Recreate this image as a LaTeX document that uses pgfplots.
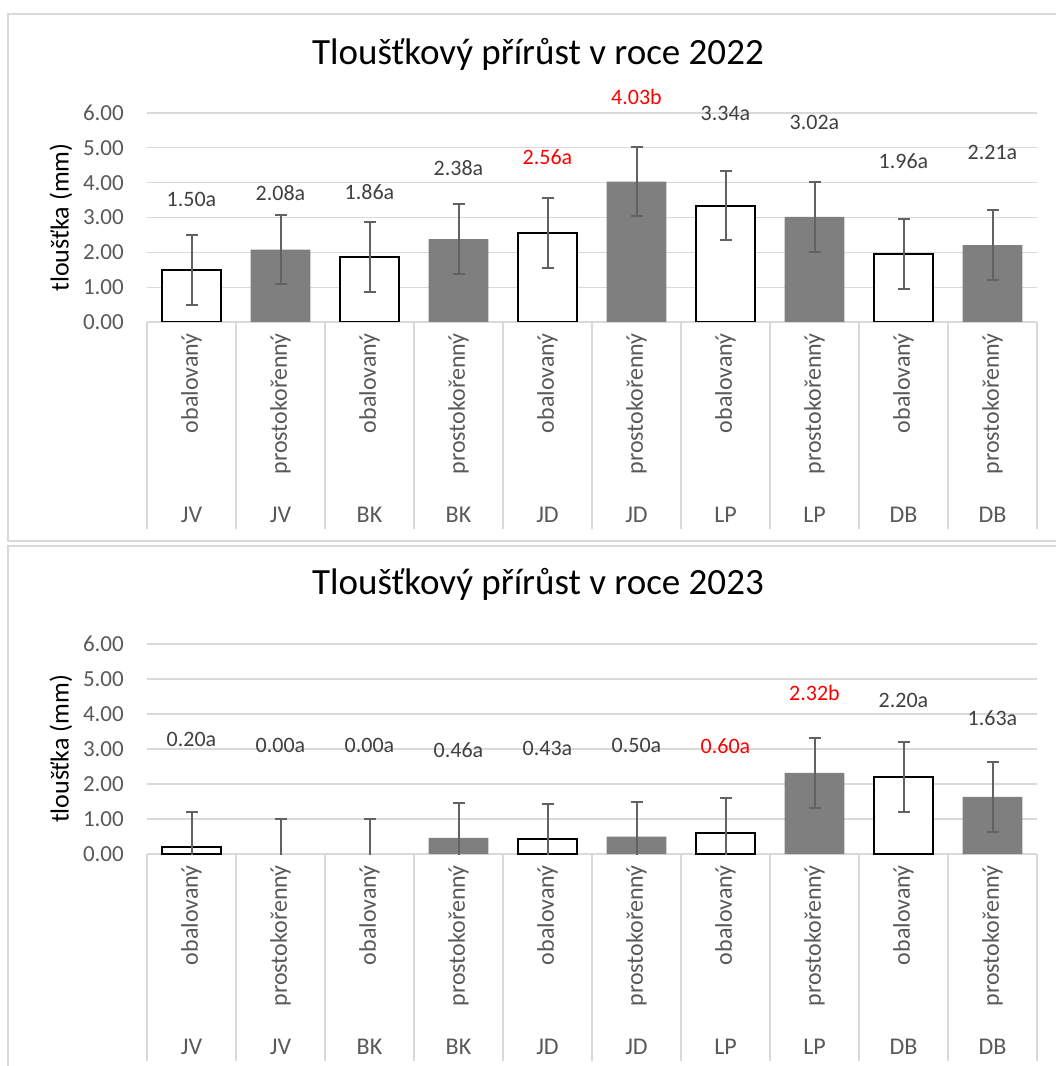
\documentclass[border=0pt]{standalone}
\usepackage{fontspec}
\setmainfont{Carlito}
\usepackage{pgfplots}
\usepackage{pgfplotstable}
\pgfplotsset{compat=1.18}
\definecolor{gridc}{HTML}{D9D9D9}
\definecolor{tickc}{HTML}{595959}
\definecolor{lblc}{HTML}{404040}
\definecolor{barg}{HTML}{7F7F7F}
\definecolor{errc}{HTML}{626262}

\pgfplotstableread{
x y e
0 1.50 1.0
2 1.86 1.0
4 2.56 1.0
6 3.34 1.0
8 1.96 1.0
}\obalA
\pgfplotstableread{
x y e
1 2.08 1.0
3 2.38 1.0
5 4.03 1.0
7 3.02 1.0
9 2.21 1.0
}\prosA
\pgfplotstableread{
x y e
0 0.20 1.0
2 0.00 1.0
4 0.43 1.0
6 0.60 1.0
8 2.20 1.0
}\obalB
\pgfplotstableread{
x y e
1 0.00 1.0
3 0.46 1.0
5 0.50 1.0
7 2.32 1.0
9 1.63 1.0
}\prosB

\tikzset{
  lbl/.style={font=\fontsize{22}{22}\selectfont, text=lblc, anchor=center, inner sep=0pt},
  rlbl/.style={font=\fontsize{22}{22}\selectfont, text=red, anchor=center, inner sep=0pt},
  grp/.style={font=\fontsize{24}{24}\selectfont, text=tickc, anchor=center, inner sep=0pt, yshift=-193pt},
}

\pgfplotsset{
  panel/.style={
    scale only axis, width=890pt,
    xmin=-0.5, xmax=9.5, ymin=0, ymax=6,
    clip mode=individual,
    axis line style={draw=none},
    ymajorgrids, grid style={draw=gridc, line width=1.3pt},
    ytick={0,1,2,3,4,5,6}, ytick pos=left, major tick length=0pt,
    /pgf/number format/assume math mode=true,
    yticklabel={\pgfmathprintnumber[fixed,fixed zerofill,precision=2]{\tick}},
    yticklabel style={font=\fontsize{23}{23}\selectfont, text=tickc, inner sep=0pt, xshift=-23pt},
    xtick={0,1,2,3,4,5,6,7,8,9}, xtick pos=bottom,
    xticklabels={obalovaný,prostokořenný,obalovaný,prostokořenný,obalovaný,prostokořenný,obalovaný,prostokořenný,obalovaný,prostokořenný},
    xticklabel style={font=\fontsize{24}{24}\selectfont, text=tickc, rotate=90, anchor=east, inner sep=0pt, inner xsep=11pt},
    extra x ticks={-0.5,0.5,1.5,2.5,3.5,4.5,5.5,6.5,7.5,8.5,9.5},
    extra x tick labels={},
    extra x tick style={major tick length=207pt, tick align=outside, tick style={draw=gridc, line width=1.3pt}},
    ylabel={tloušťka (mm)},
    ylabel style={at={(axis description cs:-0.0966,0.5)}, anchor=center, font=\fontsize{26}{26}\selectfont, text=black},
    title style={font=\fontsize{37}{37}\selectfont, text=black, anchor=base},
  },
  whitebar/.style={ybar, bar width=0.67, bar shift=0pt, fill=white, draw=black, line width=1.8pt,
    unbounded coords=discard, y filter/.expression={y==0 ? nan : y}},
  graybar/.style={ybar, bar width=0.67, bar shift=0pt, fill=barg, draw=none,
    unbounded coords=discard, y filter/.expression={y==0 ? nan : y}},
  errs/.style={color=errc, line width=2pt, mark=none, forget plot, draw=none,
    error bars/.cd, y dir=both, y explicit,
    error bar style={draw=errc, line width=2pt},
    error mark options={rotate=90, mark size=6pt, draw=errc, line width=2pt}},
}

\begin{document}
\begin{tikzpicture}[x=1pt,y=1pt]
\useasboundingbox (0,0) rectangle (1056,1066);
\draw[gridc, line width=1.3pt] (8,1052) rectangle (1080,525);
\draw[gridc, line width=1.3pt] (8,520) rectangle (1080,-30);

% ---------- 2022 ----------
\begin{axis}[panel, height=209pt, at={(147pt,744pt)}, anchor=south west,
  title={Tloušťkový přírůst v roce 2022},
  title style={at={(axis description cs:0.4393,1.2057)}}]
\addplot[whitebar] table[x=x,y=y] {\obalA};
\addplot[graybar] table[x=x,y=y] {\prosA};
\addplot[errs] table[x=x,y=y,y error=e] {\obalA};
\addplot[errs] table[x=x,y=y,y error=e] {\prosA};
\node[lbl]  at (axis cs:0,3.53) {1.50a};
\node[lbl]  at (axis cs:1,3.71) {2.08a};
\node[lbl]  at (axis cs:2,3.74) {1.86a};
\node[lbl]  at (axis cs:3,4.41) {2.38a};
\node[rlbl] at (axis cs:4,4.73) {2.56a};
\node[rlbl] at (axis cs:5,6.47) {4.03b};
\node[lbl]  at (axis cs:6,5.99) {3.34a};
\node[lbl]  at (axis cs:7,5.73) {3.02a};
\node[lbl]  at (axis cs:8,4.62) {1.96a};
\node[lbl]  at (axis cs:9,4.86) {2.21a};
\node[grp] at (axis cs:0,0) {JV};
\node[grp] at (axis cs:1,0) {JV};
\node[grp] at (axis cs:2,0) {BK};
\node[grp] at (axis cs:3,0) {BK};
\node[grp] at (axis cs:4,0) {JD};
\node[grp] at (axis cs:5,0) {JD};
\node[grp] at (axis cs:6,0) {LP};
\node[grp] at (axis cs:7,0) {LP};
\node[grp] at (axis cs:8,0) {DB};
\node[grp] at (axis cs:9,0) {DB};
\end{axis}

% ---------- 2023 ----------
\begin{axis}[panel, height=210pt, at={(147pt,212pt)}, anchor=south west,
  title={Tloušťkový přírůst v roce 2023},
  title style={at={(axis description cs:0.4393,1.2095)}}]
\addplot[whitebar] table[x=x,y=y] {\obalB};
\addplot[graybar] table[x=x,y=y] {\prosB};
\addplot[errs] table[x=x,y=y,y error=e] {\obalB};
\addplot[errs] table[x=x,y=y,y error=e] {\prosB};
\node[lbl]  at (axis cs:0,3.26) {0.20a};
\node[lbl]  at (axis cs:1,3.09) {0.00a};
\node[lbl]  at (axis cs:2,3.09) {0.00a};
\node[lbl]  at (axis cs:3,2.97) {0.46a};
\node[lbl]  at (axis cs:4,3.02) {0.43a};
\node[lbl]  at (axis cs:5,3.09) {0.50a};
\node[rlbl] at (axis cs:6,3.09) {0.60a};
\node[rlbl] at (axis cs:7,4.61) {2.32b};
\node[lbl]  at (axis cs:8,4.38) {2.20a};
\node[lbl]  at (axis cs:9,3.89) {1.63a};
\node[grp] at (axis cs:0,0) {JV};
\node[grp] at (axis cs:1,0) {JV};
\node[grp] at (axis cs:2,0) {BK};
\node[grp] at (axis cs:3,0) {BK};
\node[grp] at (axis cs:4,0) {JD};
\node[grp] at (axis cs:5,0) {JD};
\node[grp] at (axis cs:6,0) {LP};
\node[grp] at (axis cs:7,0) {LP};
\node[grp] at (axis cs:8,0) {DB};
\node[grp] at (axis cs:9,0) {DB};
\end{axis}
\end{tikzpicture}
\end{document}
